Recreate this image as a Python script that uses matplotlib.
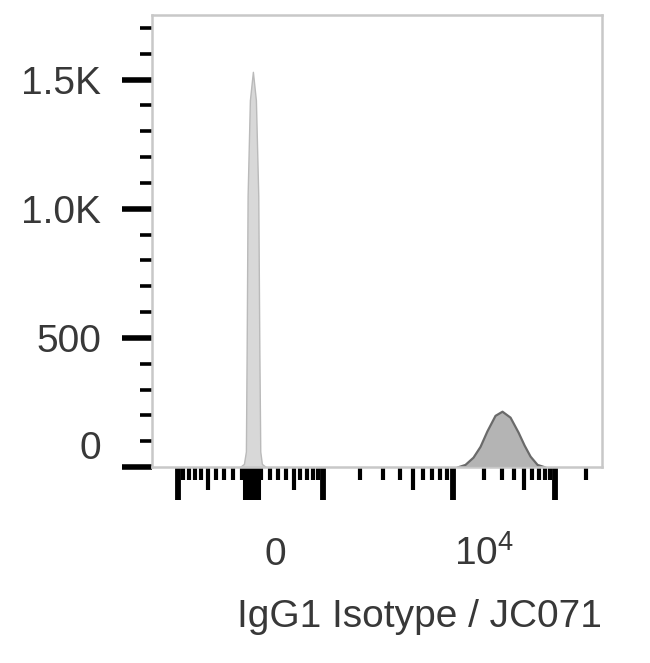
import numpy as np
import matplotlib
matplotlib.use('Agg')
import matplotlib.pyplot as plt
from matplotlib.transforms import ScaledTranslation

plt.rcParams['font.family'] = ['Liberation Sans', 'DejaVu Sans']
plt.rcParams['mathtext.fontset'] = 'custom'
plt.rcParams['mathtext.rm'] = 'Liberation Sans'

# histogram (value, count)
iso_x = [-127, -84, -63, -55, -45, -21, 11, 44, 70, 82, 92, 110, 155]
iso_n = [0, 12, 60, 450, 1050, 1420, 1530, 1420, 1050, 450, 60, 12, 0]
jc_x = [10950, 13100, 15700, 18400, 21500, 25800, 30200, 36200, 43400,
        49700, 56900, 66600, 79700]
jc_n = [0, 10, 38, 80, 140, 200, 216, 193, 135, 85, 42, 10, 0]

y_major = [0, 500, 1000, 1500]
y_labels = ['0', '500', '1.0K', '1.5K']
y_minor = [v for v in range(100, 1800, 100) if v % 500]
x_major = [-1000, 0, 1000, 10000, 100000]
x_labels = ['', '0', '', r'$\mathregular{10^4}$', '']
x_minor = ([-v for v in range(900, 0, -100)] + list(range(100, 1000, 100))
           + list(range(2000, 10000, 1000)) + list(range(20000, 100000, 10000))
           + [200000])
x_mid = [-500, 500, 5000, 50000]

# biex-like display: arcsinh, bent to the decade spacing seen on the axis
W = 617.0
ref_v = np.array([-1e5, -1e3, 0, 1e3, 1e4, 1e5, 1e8])
ref_p = np.array([-88.0, 178, 252, 323, 453, 555, 861])
ref_u = np.arcsinh(ref_v / W)

def fwd(x):
    return np.interp(np.arcsinh(np.asarray(x, float) / W), ref_u, ref_p)

def inv(p):
    return W * np.sinh(np.interp(np.asarray(p, float), ref_p, ref_u))

fig = plt.figure(figsize=(6.5, 6.63), dpi=100)
ax = fig.add_axes([152/650, 1-467/663, 450/650, 452/663])
ax.set_xscale('function', functions=(fwd, inv))
ax.set_xlim(-1630, 288000)
ax.set_ylim(0, 1750)

ax.fill_between(iso_x, iso_n, facecolor='#d8d8d8', edgecolor='#bababa', lw=1.0)
ax.fill_between(jc_x, jc_n, facecolor='#b4b4b4', edgecolor='#6a6a6a', lw=1.6)

for s in ax.spines.values():
    s.set_color('#c8c8c8')
    s.set_linewidth(1.8)

txt = '#383838'
fs = 28
ax.set_yticks(y_major, y_labels)
ax.set_yticks(y_minor, minor=True)
ax.tick_params(axis='y', which='major', length=21.6, width=4.0, pad=15,
               labelsize=fs, color='black', labelcolor=txt)
ax.tick_params(axis='y', which='minor', length=8.6, width=2.6, color='black')

ax.set_xticks(x_major, x_labels)
ax.set_xticks(x_minor, minor=True)
ax.tick_params(axis='x', which='major', length=23.8, width=4.2, pad=46.8,
               labelsize=fs, color='black', labelcolor=txt)
ax.tick_params(axis='x', which='minor', length=9.5, width=3.0, color='black')

for t, v in zip(ax.xaxis.get_minor_ticks(), x_minor):
    if v in x_mid:
        t.tick1line.set_markersize(16.5)
ax.xaxis.get_major_ticks()[1].tick1line.set_markeredgewidth(13)

# label nudges as in the reference
shifts = {1: 17, 3: 22}
for i, t in enumerate(ax.xaxis.get_major_ticks()):
    t.label1.set_verticalalignment('baseline')
    if i in shifts:
        t.label1.set_transform(t.label1.get_transform() +
                               ScaledTranslation(shifts[i]/72, 0, fig.dpi_scale_trans))
ax.yaxis.get_major_ticks()[0].label1.set_verticalalignment('bottom')

ax.set_xlabel('IgG1 Isotype / JC071', fontsize=fs, color=txt, loc='right')
ax.xaxis.set_label_coords(1.0, -0.292)

fig.savefig('out.png', dpi=100)
